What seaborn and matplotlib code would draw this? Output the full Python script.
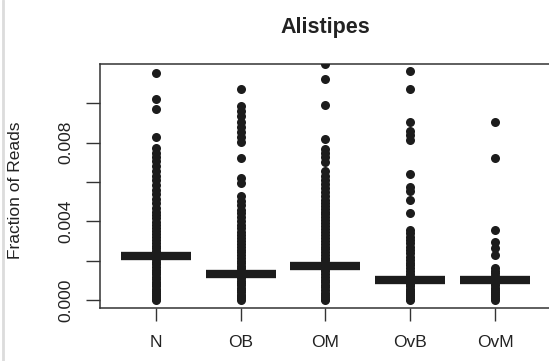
import matplotlib
matplotlib.use("Agg")
import matplotlib.pyplot as plt
import seaborn as sns
import pandas as pd
from matplotlib.lines import Line2D

# Sample groups on the x axis
groups = ["N", "OB", "OM", "OvB", "OvM"]

# Per-sample fraction of reads assigned to Alistipes, one list per group
n_fraction = [0.01154, 0.01021, 0.00970, 0.00831, 0.00775, 0.00750, 0.00728,
              0.00705, 0.00680, 0.00655, 0.00632, 0.00610, 0.00585, 0.00560,
              0.00538, 0.00515, 0.00492, 0.00470, 0.00450, 0.00432, 0.00415,
              0.00398, 0.00382, 0.00366, 0.00350, 0.00335, 0.00320, 0.00305,
              0.00290, 0.00276, 0.00262, 0.00248, 0.00234, 0.00220, 0.00207,
              0.00194, 0.00181, 0.00168, 0.00155, 0.00142, 0.00130, 0.00118,
              0.00106, 0.00094, 0.00082, 0.00070, 0.00058, 0.00047, 0.00036,
              0.00025, 0.00015, 0.00006, 0.00000]
ob_fraction = [0.01072, 0.00985, 0.00960, 0.00935, 0.00905, 0.00880, 0.00855,
               0.00830, 0.00805, 0.00721, 0.00619, 0.00594, 0.00530, 0.00505,
               0.00482, 0.00460, 0.00440, 0.00420, 0.00400, 0.00382, 0.00365,
               0.00348, 0.00332, 0.00316, 0.00300, 0.00285, 0.00270, 0.00256,
               0.00242, 0.00228, 0.00214, 0.00200, 0.00187, 0.00174, 0.00161,
               0.00148, 0.00135, 0.00122, 0.00110, 0.00098, 0.00086, 0.00074,
               0.00062, 0.00050, 0.00039, 0.00028, 0.00018, 0.00008, 0.00000]
om_fraction = [0.01200, 0.01123, 0.00992, 0.00818, 0.00770, 0.00748, 0.00725,
               0.00700, 0.00655, 0.00632, 0.00610, 0.00590, 0.00570, 0.00550,
               0.00530, 0.00510, 0.00495, 0.00480, 0.00465, 0.00450, 0.00435,
               0.00420, 0.00405, 0.00390, 0.00375, 0.00360, 0.00345, 0.00330,
               0.00315, 0.00300, 0.00286, 0.00272, 0.00258, 0.00244, 0.00230,
               0.00216, 0.00202, 0.00188, 0.00174, 0.00160, 0.00146, 0.00132,
               0.00118, 0.00104, 0.00090, 0.00077, 0.00064, 0.00051, 0.00038,
               0.00026, 0.00014, 0.00004, 0.00000]
ovb_fraction = [0.01162, 0.01072, 0.00903, 0.00860, 0.00840, 0.00815, 0.00641,
                0.00573, 0.00552, 0.00508, 0.00441, 0.00356, 0.00340, 0.00322,
                0.00305, 0.00288, 0.00271, 0.00254, 0.00237, 0.00220, 0.00205,
                0.00190, 0.00176, 0.00162, 0.00148, 0.00134, 0.00121, 0.00108,
                0.00095, 0.00082, 0.00070, 0.00058, 0.00046, 0.00035, 0.00024,
                0.00014, 0.00005, 0.00000]
ovm_fraction = [0.00903, 0.00721, 0.00356, 0.00297, 0.00263, 0.00229, 0.00161,
                0.00148, 0.00135, 0.00122, 0.00110, 0.00098, 0.00086, 0.00074,
                0.00062, 0.00050, 0.00040, 0.00030, 0.00020, 0.00010, 0.00000]

# Group medians drawn as horizontal bars
medians = [0.00225, 0.00131, 0.00175, 0.00102, 0.00102]

sns.set_theme(style="ticks")
plt.rcParams["font.family"] = ["Liberation Sans", "DejaVu Sans"]
ink = "#1c1c1c"

values = [n_fraction, ob_fraction, om_fraction, ovb_fraction, ovm_fraction]
points = pd.DataFrame({
    "group": [g for g, v in zip(groups, values) for _ in v],
    "fraction": [x for v in values for x in v],
})
med = pd.DataFrame({"group": groups, "fraction": medians})

fig = plt.figure(figsize=(5.49, 3.61), dpi=100)
ax = fig.add_axes([100 / 549, 53.3 / 361, 451 / 549, 243.7 / 361])

sns.stripplot(data=points, x="group", y="fraction", order=groups,
              jitter=False, color=ink, size=6.5, linewidth=0, ax=ax)
sns.pointplot(data=med, x="group", y="fraction", order=groups,
              color=ink, errorbar=None, marker="_", linestyle="none",
              markersize=50, markeredgewidth=6, ax=ax)

ax.set_xlim(-0.66, 4.66)
ax.set_ylim(-0.00039, 0.0120)

ax.set_yticks([0.0, 0.002, 0.004, 0.006, 0.008, 0.010])
ax.set_yticklabels(["0.000", "", "0.004", "", "0.008", ""])
ax.tick_params(axis="y", length=10, width=1, pad=9, labelsize=12.5,
               labelrotation=90, color="#333333", labelcolor="#222222")
for lab in ax.get_yticklabels():
    lab.set_va("center")
ax.tick_params(axis="x", length=9, width=1, pad=11, labelsize=12.5,
               color="#333333", labelcolor="#222222")

for side in ["left", "top", "bottom"]:
    ax.spines[side].set_color("#333333")
    ax.spines[side].set_linewidth(1.1)
ax.spines["right"].set_visible(False)

ax.set_xlabel("")
ax.set_ylabel("Fraction of Reads", fontsize=12.5, color="#222222")
ax.yaxis.set_label_coords(-0.171, 0.481)
ax.set_title("Alistipes", fontsize=15.5, fontweight="bold", pad=22,
             color="#222222")

# thin panel border on the left edge
fig.add_artist(Line2D([0.005, 0.005], [0, 1], transform=fig.transFigure,
                      color="#dcdcdc", linewidth=2))

fig.savefig("out.png", dpi=100)
